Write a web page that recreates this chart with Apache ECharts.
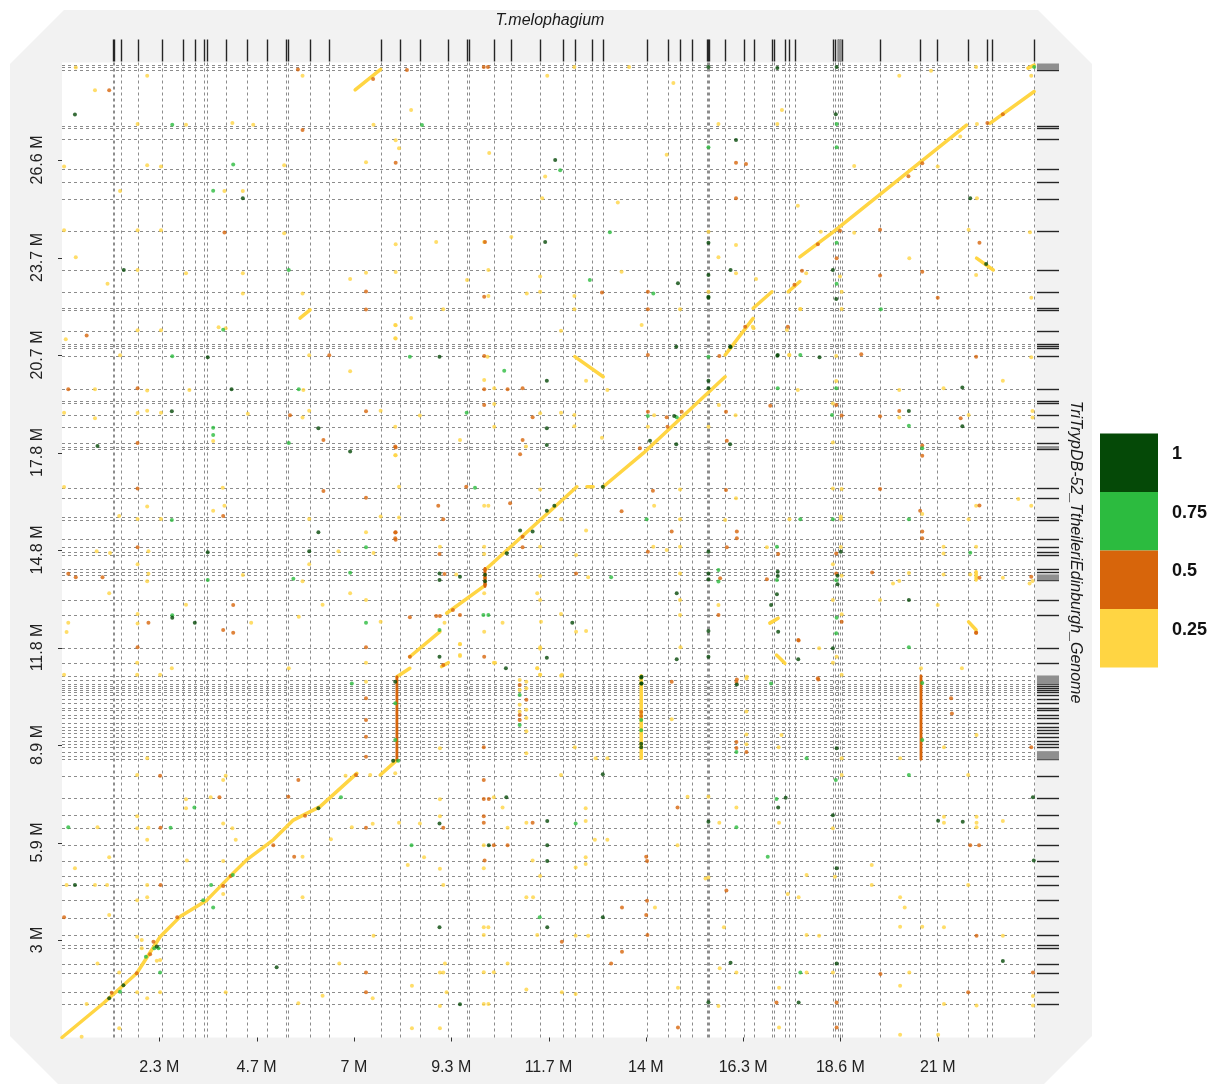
<!DOCTYPE html>
<html><head><meta charset="utf-8">
<script src="https://cdn.jsdelivr.net/npm/echarts@6/dist/echarts.min.js"></script>
<style>html,body{margin:0;padding:0;background:#fff;}#c{width:1223px;height:1086px;}</style>
</head><body><div id="c"></div>
<script>
// ---------------- data (Mb) ----------------
const xTitle = 'T.melophagium';
const yTitle = 'TriTrypDB-52_TtheileriEdinburgh_Genome';
const xMax = 23.3, xStep = 2.33;
const yMax = 29.6, yStep = 2.96;
const xTickLabels = ['', '2.3 M', '4.7 M', '7 M', '9.3 M', '11.7 M', '14 M', '16.3 M', '18.6 M', '21 M', ''];
const yTickLabels = ['', '3 M', '5.9 M', '8.9 M', '11.8 M', '14.8 M', '17.8 M', '20.7 M', '23.7 M', '26.6 M', ''];
const legendLabels = ['1', '0.75', '0.5', '0.25'];
const legendColors = ['#054907', '#2cbb3f', '#d7650b', '#ffd543'];

const xContigEnds = [1.21,1.25,1.42,1.81,2.39,2.90,3.18,3.40,3.47,3.93,4.42,4.92,5.36,5.41,5.93,6.39,7.63,8.10,8.57,9.25,9.69,9.75,10.34,10.75,11.45,11.99,12.28,12.69,12.95,14.02,14.52,14.80,15.08,15.44,15.47,15.50,15.88,16.34,16.58,17.01,17.06,17.32,17.42,17.55,18.46,18.51,18.58,18.63,18.67,19.59,20.55,20.96,21.70,22.16,22.28,23.28];
const yContigEnds = [29.38,29.45,29.52,27.62,27.66,27.27,26.36,25.98,25.46,24.49,23.29,22.62,22.10,22.16,21.46,21.06,20.99,20.92,20.70,19.68,19.33,19.25,18.91,18.54,18.06,17.94,17.88,16.67,16.39,15.81,15.71,15.13,14.90,14.75,14.65,14.21,14.14,14.04,13.89,13.28,12.82,11.82,11.38,10.97,10.85,10.73,10.67,10.61,10.55,10.48,10.40,10.28,10.15,10.00,9.94,9.79,9.69,9.56,9.44,9.34,9.24,9.11,9.01,8.92,8.82,8.68,8.56,8.45,7.95,7.28,6.75,6.37,5.83,5.36,4.91,4.63,4.17,3.64,3.10,2.81,2.73,2.24,1.96,1.37,1.03];
const xTinyContigBlocks = [[18.57,18.68]];
const yTinyContigBlocks = [[29.37,29.57],[17.87,17.95],[13.88,14.05],[10.72,10.98],[8.44,8.69]];

// yellow (identity 0.25) alignment runs
const alignmentRuns = [
  [[0,0],[0.99,1.04],[1.79,1.95],[2.35,3.06],[2.83,3.67],[3.47,4.17],[4.10,4.99],[4.42,5.39],[5.06,6.00],[5.54,6.60],[6.18,7.01],[7.06,8.02]],
  [[7.62,7.97],[8.02,8.42]],
  [[8.02,10.95],[8.33,11.21]],
  [[8.33,11.56],[9.05,12.32]],
  [[9.09,11.26],[9.25,11.38]],
  [[9.21,12.88],[10.09,13.69]],
  [[10.17,14.24],[12.33,16.72]],
  [[12.57,16.72],[12.72,16.72]],
  [[12.96,16.72],[13.92,17.74],[15.88,20.06]],
  [[15.88,20.72],[16.55,21.83]],
  [[16.55,22.14],[17.00,22.64]],
  [[17.39,22.64],[17.67,22.95]],
  [[17.67,23.70],[18.47,24.46],[21.66,27.70]],
  [[22.22,27.75],[23.28,28.72]],
  [[23.13,29.43],[23.28,29.52]],
  [[12.28,20.67],[12.96,20.06]],
  [[21.90,23.66],[22.30,23.30]],
  [[17.11,11.61],[17.31,11.36]],
  [[16.95,12.58],[17.15,12.73]],
  [[7.02,28.77],[7.63,29.39]],
  [[5.70,21.84],[5.94,22.09]],
  [[21.71,12.62],[21.89,12.37]],
  [[13.87,8.48],[13.87,10.98]],
  [[21.89,14.14],[21.89,13.89]]
];
// vertical runs of other identities: [x, yStart, yEnd, legendIndex]
const coloredRuns = [
  [8.02, 8.42, 10.95, 2],
  [20.57, 8.45, 10.98, 2],
  [10.13, 13.69, 14.24, 2]
];

const dots1 = [[0.31,28.02],[4.33,25.48],[1.48,23.30],[3.49,20.65],[4.06,19.68],[2.63,19.01],[6.14,18.50],[6.90,17.79],[0.85,17.96],[6.14,15.34],[3.49,14.73],[5.92,14.76],[2.64,12.74],[3.18,12.59],
[9.04,11.56],[9.04,6.50],[0.31,4.63],[9.04,3.35],[2.27,2.76],[1.47,1.59],[1.13,1.19],[5.14,2.13],[9.53,1.01],[6.14,6.96],
[14.75,22.90],[15.48,22.49],[14.71,20.97],[16.00,20.97],[9.04,20.67],[17.14,20.72],[18.14,20.65],[11.61,19.94],[15.48,19.94],[14.66,18.87],[11.61,18.50],[11.61,17.99],[14.71,18.01],[16.00,18.01],[10.97,15.39],[11.27,15.36],[15.48,14.75],[9.04,14.09],[9.04,13.89],[9.53,13.99],[15.48,14.09],[15.48,13.91],[17.14,14.14],[17.14,14.01],[17.12,13.46],[14.72,13.49],[16.98,13.13],[12.22,12.59],[15.48,12.34],[17.15,12.32],[11.61,11.53],[14.72,11.48],[15.48,11.56],[17.63,11.48],[10.63,11.21],[13.88,10.95],[13.88,10.75],[16.16,10.72],[11.61,15.99],[11.79,16.14],[12.95,16.72],[14.08,18.12],[10.65,14.70],[15.48,19.71],
[15.48,29.46],[17.13,29.43],[18.55,29.46],[18.53,28.03],[16.14,27.25],[21.75,25.48],[15.48,24.13],[15.48,23.15],[16.01,23.30],[18.46,23.30],[15.48,22.46],[18.54,22.42],[17.13,20.70],[22.13,23.48],[16.01,20.96],
[18.46,11.82],[18.55,8.78],[12.95,7.99],[10.64,7.29],[17.33,7.28],[17.15,6.98],[11.62,6.57],[15.48,6.55],[18.46,6.75],[20.98,6.58],[21.57,6.55],[23.25,7.29],[10.22,5.84],[11.62,5.84],[11.62,5.36],[18.55,5.14],[23.27,5.37],[12.95,3.65],[11.62,3.35],[16.01,2.27],[18.55,2.25],[22.53,2.32],[15.48,1.07],[17.64,1.06],
[13.87,10.93],[13.87,10.75],[13.87,8.92],[13.87,8.81],[7.98,10.80],[7.93,8.40],[10.13,14.05],[10.13,13.85],
[21.56,19.73],[20.28,19.02],[21.56,18.56],[18.65,14.75],[18.57,14.02],[18.57,13.76],[20.28,13.28],[11.81,26.64],[11.57,24.15]];

const dots075 = [[2.64,27.71],[4.10,26.50],[3.62,25.71],[5.43,23.30],[3.86,21.49],[2.64,20.68],[5.67,19.68],[3.62,18.51],[3.62,18.29],[5.43,18.05],[2.63,15.71],[7.28,14.88],[3.49,13.89],[5.54,13.93],[6.90,14.11],[2.64,12.82],[7.28,12.59],
[6.94,10.75],[3.17,6.98],[6.68,7.29],[8.37,5.84],[2.60,6.37],[0.15,6.38],[3.62,3.95],[2.21,2.71],[2.31,2.71],[2.01,2.45],[2.35,1.97],[1.39,1.39],[3.38,4.17],[4.09,4.93],[3.57,4.63],[7.98,10.15],[7.98,9.03],[8.05,8.40],
[14.16,22.59],[8.33,20.67],[15.48,20.67],[17.68,20.72],[10.59,20.24],[17.14,19.71],[9.69,18.97],[14.03,18.87],[9.89,16.69],[14.00,15.73],[17.68,15.73],[17.12,14.90],[13.15,13.97],[15.72,14.19],[15.72,13.84],[17.12,13.89],[10.09,12.83],[10.21,12.83],[9.04,12.37],[16.98,10.75],[14.72,18.83],
[23.28,29.46],[18.55,27.73],[15.48,27.03],[18.55,27.03],[18.55,24.13],[18.55,22.88],[19.61,22.11],
[20.28,11.85],[17.83,8.48],[18.53,7.82],[20.28,7.97],[17.11,7.24],[16.15,6.38],[12.30,6.50],[16.90,5.49],[11.44,3.65],[17.68,1.97],[13.87,9.64],[13.87,9.33],[20.60,10.76],[20.60,9.03],[10.96,10.40],[10.96,9.49],[16.15,8.67],
[18.54,19.71],[18.44,18.90],[20.28,18.57],[20.60,17.89],[18.46,15.73],[20.28,15.73],[21.75,14.72],[18.54,13.88],[18.55,12.74],[18.54,12.27],
[8.62,27.70],[13.12,24.45],[11.93,26.33],[12.64,23.00]];

const dots05 = [[1.13,28.76],[5.65,29.39],[5.76,27.55],[7.99,26.56],[3.89,24.44],[7.28,22.65],[7.28,22.10],[0.59,21.31],[6.40,20.71],[0.15,19.68],[1.81,19.71],[5.46,18.89],[7.28,19.01],[6.26,18.14],[1.81,18.05],[7.99,17.91],[1.81,16.67],[6.26,16.59],[7.28,16.39],[3.86,15.83],[7.99,15.34],[7.99,15.11],[1.81,14.88],[0.15,14.08],[0.33,13.97],[0.97,13.97],[4.10,13.13],[2.07,12.59],[3.86,12.37],[4.10,12.29],[7.28,11.85],[1.81,11.85],[7.45,29.10],
[7.28,10.30],[7.28,9.64],[7.28,9.13],[7.28,8.52],[2.35,7.95],[5.66,7.82],[3.77,7.29],[5.42,7.31],[9.13,6.37],[7.28,6.37],[2.36,6.37],[5.56,5.49],[2.36,4.63],[0.05,3.65],[2.19,2.91],[2.11,2.53],[7.28,1.97],[7.28,1.37],[1.19,1.36],[2.76,3.65],[1.79,1.95],[3.86,4.60],[4.04,4.90],[5.06,5.84],[5.82,6.73],[7.04,7.97],
[10.11,22.49],[12.93,22.62],[14.03,22.64],[14.03,22.11],[17.38,21.58],[10.11,20.69],[14.03,20.72],[10.11,19.68],[10.67,19.68],[11.03,19.71],[10.11,19.20],[16.96,19.18],[11.27,18.83],[14.03,19.00],[14.48,18.83],[15.90,19.00],[11.03,18.14],[7.98,17.94],[10.97,17.71],[15.92,18.12],[9.68,16.72],[14.15,16.60],[15.90,16.62],[9.01,16.14],[10.73,16.22],[13.40,15.98],[9.13,15.73],[7.98,15.33],[7.98,15.16],[14.60,15.36],[16.16,15.36],[16.16,15.16],[11.03,14.88],[15.92,14.88],[9.04,14.68],[14.03,14.75],[17.15,14.68],[9.16,14.07],[12.31,14.09],[15.76,13.94],[16.88,13.91],[8.33,12.76],[8.96,12.80],[9.05,12.80],[9.53,12.83],[15.72,12.83],[17.63,12.07],[10.11,11.56],[14.60,10.80],[16.16,10.87],[18.10,10.91],[13.84,17.89],[14.50,18.54],[14.84,19.00],[15.74,20.69],[16.36,21.58],[17.54,22.85],[11.03,15.20],[10.13,14.20],[10.13,13.95],[10.13,13.75],[9.36,12.98],[8.33,11.56],[9.13,11.31],
[16.14,26.56],[16.38,26.52],[16.14,25.48],[19.59,24.52],[18.55,23.66],[21.97,24.13],[17.72,23.28],[19.59,23.13],[20.60,23.25],[20.97,22.46],[19.14,20.74],[21.89,20.67],[22.16,27.76],[22.53,28.03],[20.60,26.54],[20.27,26.15],[18.10,24.08],[18.63,24.49],
[18.11,10.87],[17.64,12.05],[21.29,10.30],[21.31,9.84],[23.21,8.81],[10.10,8.81],[10.10,7.82],[10.10,7.24],[10.22,7.24],[10.10,6.72],[10.10,6.52],[11.27,6.52],[14.74,6.98],[21.75,5.84],[21.96,5.84],[10.34,5.84],[10.67,5.84],[10.12,5.37],[13.99,5.49],[14.01,5.36],[15.91,4.46],[14.01,4.15],[13.41,3.95],[13.99,3.72],[21.90,3.09],[14.02,3.11],[11.97,2.91],[13.41,2.60],[13.15,2.25],[23.25,1.97],[19.60,1.93],[21.70,1.37],[17.11,1.06],[18.55,1.06],[14.75,0.30],[18.55,0.30],[10.96,10.70],[10.96,9.79],[11.12,10.25],[10.96,9.64],[16.15,10.79],[16.15,8.97],[16.15,8.79],[16.39,8.67],[13.87,9.88],[13.87,9.76],
[18.54,19.20],[18.67,18.88],[19.59,18.86],[20.05,19.02],[21.52,18.80],[20.60,17.97],[20.60,17.66],[19.59,16.65],[21.97,16.15],[20.55,15.99],[20.60,15.36],[20.60,15.16],[18.54,14.69],[18.54,14.09],[19.40,14.12],[21.97,13.96],[23.21,13.99],[18.67,12.62],[21.89,12.29],
[8.26,29.37],[10.10,29.46],[10.20,29.46],[10.13,24.15],[21.89,12.29]];

const dots025 = [[0.33,29.45],[0.79,28.76],[2.04,29.20],[5.76,29.20],[1.81,27.73],[2.97,27.71],[4.08,27.76],[4.58,27.71],[7.46,27.71],[7.99,27.24],[7.28,26.57],[2.04,26.48],[2.37,26.44],[5.32,26.48],[0.05,26.44],[1.39,25.70],[3.89,25.70],[4.33,25.70],[5.32,24.42],[0.05,24.51],[1.81,24.51],[2.37,24.51],[7.99,24.08],[0.33,23.69],[1.81,23.30],[2.97,23.20],[4.33,23.20],[6.90,23.03],[7.28,23.22],[7.99,23.24],[1.09,22.88],[4.33,22.59],[5.76,22.59],[3.75,21.56],[3.92,21.53],[0.09,21.20],[1.81,21.47],[2.37,21.47],[7.99,21.62],[7.99,21.22],[1.39,20.71],[5.92,20.71],[6.90,20.23],[0.79,19.68],[2.04,19.64],[3.05,19.66],[5.78,19.66],[0.05,18.97],[0.79,18.80],[1.81,18.96],[2.04,19.03],[2.37,18.97],[4.45,18.94],[5.76,18.82],[5.92,19.03],[7.63,19.03],[3.62,18.11],[7.99,17.68],[0.05,16.71],[3.85,16.69],[2.04,16.12],[3.62,15.99],[3.89,16.14],[1.37,15.83],[1.81,15.74],[2.37,15.74],[5.92,15.74],[7.63,15.82],[7.28,15.34],[0.83,14.76],[1.15,14.71],[2.07,14.76],[6.62,14.76],[5.92,14.37],[7.46,14.71],[1.81,14.37],[2.07,14.08],[2.04,13.85],[4.33,14.04],[5.76,13.85],[1.13,13.49],[2.97,13.14],[6.24,13.14],[6.90,13.49],[7.28,13.28],[1.81,12.86],[1.81,12.57],[0.15,12.59],[0.11,12.31],[4.53,12.59],[5.67,12.77],[7.63,12.62],
[1.80,11.38],[1.80,11.01],[2.63,11.21],[2.35,11.01],[0.05,11.01],[5.43,11.21],[7.28,11.38],[7.28,10.80],[9.53,11.95],[9.53,11.61],[9.05,8.78],[2.04,8.48],[1.80,7.97],[3.92,7.95],[3.86,7.82],[6.79,7.95],[7.38,7.97],[7.98,8.02],[2.97,7.23],[2.97,6.96],[3.56,7.29],[9.05,7.23],[9.05,6.72],[8.57,6.50],[8.07,6.52],[7.44,6.49],[6.94,6.38],[1.80,6.72],[1.80,6.35],[2.07,6.37],[0.85,6.38],[2.04,6.00],[3.86,6.50],[4.08,6.35],[4.16,6.00],[6.44,6.02],[1.13,5.47],[0.31,5.14],[2.99,5.37],[3.86,5.36],[5.76,5.49],[8.28,5.24],[8.67,5.47],[9.05,5.12],[0.11,4.63],[0.79,4.63],[1.08,4.63],[2.04,4.63],[2.04,4.26],[1.80,4.17],[3.86,4.36],[5.76,4.26],[9.13,4.63],[1.13,3.72],[7.46,3.09],[1.80,3.06],[1.91,2.96],[1.91,2.71],[2.35,2.35],[2.27,2.33],[0.85,2.25],[1.37,1.97],[6.64,2.25],[9.17,2.25],[9.05,1.97],[9.13,1.97],[8.38,1.57],[9.21,1.37],[3.92,1.37],[2.35,1.37],[1.80,1.37],[2.04,1.19],[0.59,1.02],[6.24,1.27],[5.66,1.04],[7.44,1.19],[9.05,0.96],[1.37,0.28],[8.38,0.28],[9.05,0.28],[0.47,0.02],
[10.21,22.51],[11.13,22.59],[11.45,22.64],[12.27,22.51],[9.13,22.11],[12.27,22.11],[14.80,22.11],[17.68,22.11],[8.36,21.84],[7.98,21.63],[7.98,21.23],[11.95,21.46],[13.88,21.63],[16.56,21.53],[10.19,20.67],[17.41,20.72],[12.55,19.94],[13.06,19.66],[10.11,19.96],[10.35,19.71],[17.62,19.66],[10.35,19.23],[15.73,19.20],[8.57,18.88],[11.45,18.95],[11.95,18.97],[12.27,18.90],[14.18,18.89],[16.13,18.89],[7.98,18.54],[10.35,18.54],[12.27,18.56],[14.03,18.54],[15.48,18.54],[12.93,18.21],[9.53,18.14],[11.11,17.94],[7.98,17.68],[8.07,16.72],[11.45,16.64],[14.80,16.64],[16.14,16.37],[10.11,16.14],[10.21,16.14],[14.18,16.14],[8.07,15.79],[11.95,15.73],[14.80,15.73],[15.88,15.71],[17.42,15.73],[12.55,15.39],[9.05,14.90],[10.11,14.90],[11.45,14.90],[14.16,14.90],[14.80,14.90],[16.88,14.88],[10.11,14.68],[12.31,14.65],[14.48,14.80],[9.44,14.06],[11.45,14.01],[12.60,13.97],[14.80,14.09],[11.38,13.49],[10.11,13.49],[11.45,13.28],[14.80,13.28],[15.72,13.13],[11.95,12.86],[14.80,12.83],[10.55,12.59],[11.47,12.62],[9.16,12.59],[10.11,12.32],[12.31,12.32],[12.55,12.34],[9.53,11.94],[9.53,11.58],[10.37,11.38],[11.45,11.80],[11.38,11.21],[11.45,11.01],[11.95,10.98],[16.40,10.95],
[20.05,29.20],[20.81,29.35],[21.89,29.46],[23.21,29.20],[17.24,28.16],[15.72,27.73],[17.13,27.73],[21.91,27.73],[21.51,27.35],[18.97,26.46],[20.97,26.44],[17.62,25.25],[21.91,25.48],[15.48,24.46],[18.17,24.46],[18.97,24.43],[21.71,24.52],[23.18,24.45],[16.14,24.06],[15.72,23.69],[20.29,23.66],[16.14,23.20],[16.62,23.03],[17.82,23.20],[18.63,23.10],[21.89,23.15],[15.48,22.64],[18.67,22.64],[23.21,22.46],[17.68,22.12],[18.67,22.12],[17.36,21.48],[16.54,21.58],[17.42,20.72],[18.54,20.69],[23.21,20.65],
[10.34,11.38],[11.38,11.21],[11.45,11.85],[11.45,11.01],[11.97,11.01],[14.81,11.85],[14.60,9.66],[18.13,11.82],[18.46,11.38],[18.55,11.56],[18.67,11.01],[20.57,11.21],[21.55,11.21],[21.90,9.18],[21.12,8.81],[12.28,8.81],[11.12,8.63],[12.78,8.48],[13.06,8.48],[18.67,8.48],[17.16,8.81],[17.23,9.18],[20.07,8.48],[11.95,7.97],[18.67,7.97],[21.70,7.97],[10.34,7.29],[10.55,6.98],[10.67,6.37],[11.12,6.52],[12.54,6.96],[12.54,6.57],[12.76,6.00],[13.06,6.00],[14.98,7.31],[15.48,7.31],[15.74,6.52],[16.15,6.98],[17.17,6.52],[18.46,6.35],[21.12,6.70],[21.12,6.52],[21.90,6.70],[21.90,6.52],[21.90,6.38],[22.53,6.57],[10.10,5.84],[14.74,5.84],[10.10,5.14],[11.27,5.37],[12.54,5.47],[12.54,5.27],[12.30,5.16],[18.51,4.88],[19.39,5.24],[15.41,4.83],[15.48,4.86],[11.45,4.90],[17.83,4.93],[19.39,4.63],[21.70,4.63],[17.38,4.36],[17.64,4.26],[11.12,4.26],[11.28,4.26],[14.20,3.95],[10.10,3.35],[10.21,3.35],[15.85,3.35],[20.07,4.26],[20.18,3.95],[20.07,3.36],[20.60,3.36],[21.12,3.35],[22.53,3.09],[10.10,3.11],[11.38,3.11],[12.30,3.09],[12.60,3.09],[17.83,3.11],[18.13,3.09],[10.67,2.25],[10.10,1.98],[10.34,1.98],[15.75,2.10],[16.15,1.97],[17.83,1.97],[18.46,1.97],[20.29,1.97],[20.07,1.57],[23.25,1.26],[11.12,1.46],[11.97,1.37],[12.30,1.32],[14.75,1.51],[17.17,1.51],[10.10,1.02],[10.21,1.02],[15.72,0.96],[21.12,1.02],[21.90,0.97],[23.25,0.97],[17.17,0.30],[20.07,0.08],[20.98,0.08],
[10.96,10.85],[10.96,10.55],[10.96,10.10],[10.96,9.90],[11.12,10.80],[11.12,10.60],[11.12,9.95],[11.12,9.70],[11.12,9.30],[16.39,10.90],[16.39,9.90],[16.39,9.20],[16.39,8.90],
[18.54,19.93],[20.05,19.66],[21.11,19.71],[22.53,19.94],[18.46,19.25],[20.05,18.82],[21.71,18.90],[23.24,19.02],[23.24,18.82],[18.46,18.06],[18.46,16.67],[18.67,16.65],[22.90,16.35],[21.89,16.14],[23.21,16.14],[20.60,15.89],[18.65,15.82],[18.65,15.74],[21.71,15.73],[18.65,14.89],[21.11,14.90],[21.89,14.90],[21.11,14.69],[18.46,14.37],[18.67,14.02],[20.28,14.10],[20.05,13.86],[21.11,14.06],[21.75,14.06],[22.53,13.96],[23.24,13.86],[19.90,13.78],[23.17,13.78],[18.46,13.28],[19.59,13.28],[20.97,13.13],[18.67,12.85],
[11.62,29.20],[8.36,28.16],[8.07,27.00],[10.23,26.85],[11.57,26.14],[13.31,25.35],[11.50,25.48],[8.96,24.15],[10.11,24.15],[10.76,24.30],[9.70,23.00],[10.21,23.30],[11.45,23.10],[13.40,23.25],[14.48,26.80],[12.27,29.46],[13.58,29.46],[14.64,28.98]];

// ---------------- chart ----------------
const chart = echarts.init(document.getElementById('c'), null, {renderer: 'canvas'});
const FONT = 'Liberation Sans, Arial, sans-serif';
const dashColor = '#8c8c8c';
const tickColor = '#262626';

function crisp(v) { return Math.round(v) + 0.5; }

function renderXBound(params, api) {
  const cs = params.coordSys;
  const px = crisp(api.coord([api.value(0), 0])[0]);
  return {type: 'group', children: [
    {type: 'line', shape: {x1: px, y1: cs.y, x2: px, y2: cs.y + cs.height}, style: {stroke: dashColor, lineWidth: 1, lineDash: [3, 3]}},
    {type: 'line', shape: {x1: px, y1: cs.y - 23, x2: px, y2: cs.y - 1}, style: {stroke: tickColor, lineWidth: 1.4}}
  ]};
}
function renderYBound(params, api) {
  const cs = params.coordSys;
  const py = crisp(api.coord([0, api.value(1)])[1]);
  const r = cs.x + cs.width;
  return {type: 'group', children: [
    {type: 'line', shape: {x1: cs.x, y1: py, x2: r, y2: py}, style: {stroke: dashColor, lineWidth: 1, lineDash: [3, 3]}},
    {type: 'line', shape: {x1: r + 2, y1: py, x2: r + 24, y2: py}, style: {stroke: tickColor, lineWidth: 1.4}}
  ]};
}
function renderYBlock(params, api) {
  const cs = params.coordSys;
  const a = api.coord([0, api.value(1)])[1];
  const b = api.coord([0, api.value(2)])[1];
  const r = cs.x + cs.width;
  return {type: 'rect', shape: {x: r + 2, y: Math.min(a, b), width: 22, height: Math.max(2, Math.abs(a - b))}, style: {fill: '#8f8f8f'}};
}
function renderXBlock(params, api) {
  const cs = params.coordSys;
  const a = api.coord([api.value(0), 0])[0];
  const b = api.coord([api.value(1), 0])[0];
  return {type: 'rect', shape: {x: Math.min(a, b), y: cs.y - 23, width: Math.max(2, Math.abs(a - b)), height: 22}, style: {fill: '#8f8f8f'}};
}
// outward axis ticks only at labelled positions
function renderXTick(params, api) {
  const cs = params.coordSys;
  const px = crisp(api.coord([api.value(0), 0])[0]);
  const b = cs.y + cs.height;
  return {type: 'line', shape: {x1: px, y1: b, x2: px, y2: b + 4}, style: {stroke: '#333', lineWidth: 1}};
}
function renderYTick(params, api) {
  const cs = params.coordSys;
  const py = crisp(api.coord([0, api.value(1)])[1]);
  return {type: 'line', shape: {x1: cs.x - 4, y1: py, x2: cs.x, y2: py}, style: {stroke: '#333', lineWidth: 1}};
}
const xTickData = [], yTickData = [];
xTickLabels.forEach((l, i) => { if (l) xTickData.push([i * xStep, 0]); });
yTickLabels.forEach((l, i) => { if (l) yTickData.push([0, i * yStep]); });

const series = [
  {type: 'custom', name: 'xb', renderItem: renderXBound, clip: false, silent: true, z: 1,
   data: xContigEnds.map(v => [v, 0]), encode: {x: 0, y: 1}},
  {type: 'custom', name: 'yb', renderItem: renderYBound, clip: false, silent: true, z: 1,
   data: yContigEnds.map(v => [0, v]), encode: {x: 0, y: 1}},
  {type: 'custom', name: 'ybl', renderItem: renderYBlock, clip: false, silent: true, z: 2,
   data: yTinyContigBlocks.map(b => [0, b[0], b[1]]), encode: {x: 0, y: [1, 2]}},
  {type: 'custom', name: 'xbl', renderItem: renderXBlock, clip: false, silent: true, z: 2,
   data: xTinyContigBlocks.map(b => [b[0], b[1], 0]), encode: {x: [0, 1], y: 2}},
  {type: 'custom', name: 'xt', renderItem: renderXTick, clip: false, silent: true, z: 2,
   data: xTickData, encode: {x: 0, y: 1}},
  {type: 'custom', name: 'yt', renderItem: renderYTick, clip: false, silent: true, z: 2,
   data: yTickData, encode: {x: 0, y: 1}},
  {type: 'scatter', name: '0.25', data: dots025, symbolSize: 4, itemStyle: {color: legendColors[3]}, z: 3, silent: true},
  {type: 'lines', coordinateSystem: 'cartesian2d', polyline: true, silent: true, z: 4,
   data: alignmentRuns.map(r => ({coords: r})),
   lineStyle: {color: legendColors[3], width: 3.5, opacity: 1, cap: 'round', join: 'round'}},
  {type: 'lines', coordinateSystem: 'cartesian2d', polyline: true, silent: true, z: 5,
   data: coloredRuns.map(r => ({coords: [[r[0], r[1]], [r[0], r[2]]], lineStyle: {color: legendColors[r[3]]}})),
   lineStyle: {width: 2.8, opacity: 1, cap: 'round'}},
  {type: 'scatter', name: '0.5', data: dots05, symbolSize: 4, itemStyle: {color: legendColors[2]}, z: 6, silent: true},
  {type: 'scatter', name: '0.75', data: dots075, symbolSize: 4, itemStyle: {color: legendColors[1]}, z: 7, silent: true},
  {type: 'scatter', name: '1', data: dots1, symbolSize: 4, itemStyle: {color: legendColors[0]}, z: 8, silent: true}
];

const graphics = [
  {type: 'polygon', z: -100, silent: true,
   shape: {points: [[10,64],[64,10],[1038,10],[1092,64],[1092,1036],[1044,1084],[58,1084],[10,1036]]},
   style: {fill: '#f2f2f2'}},
  {type: 'text', z: 10, silent: true, x: 550, y: 21,
   style: {text: xTitle, fontSize: 16, fontStyle: 'italic', fontFamily: FONT, fill: '#1a1a1a', align: 'center', verticalAlign: 'middle'}},
  {type: 'text', z: 10, silent: true, x: 1075, y: 552, rotation: -Math.PI / 2,
   style: {text: yTitle, fontSize: 16, fontStyle: 'italic', fontFamily: FONT, fill: '#1a1a1a', align: 'center', verticalAlign: 'middle'}}
];
const boxTop = 433.5, boxH = 58.5;
legendLabels.forEach((lab, i) => {
  graphics.push({type: 'rect', z: 10, silent: true, shape: {x: 1100, y: boxTop + i * boxH, width: 58, height: boxH}, style: {fill: legendColors[i]}});
  graphics.push({type: 'text', z: 10, silent: true, x: 1172, y: boxTop + i * boxH + 21,
    style: {text: lab, fontSize: 18, fontWeight: 'bold', fontFamily: FONT, fill: '#111', align: 'left', verticalAlign: 'middle'}});
});

chart.setOption({
  animation: false,
  backgroundColor: '#ffffff',
  graphic: graphics,
  grid: {left: 62, right: 188, top: 62.5, bottom: 48.5, show: true, backgroundColor: '#ffffff', borderWidth: 0},
  xAxis: {type: 'value', min: 0, max: xMax, interval: xStep,
    axisLine: {show: false}, splitLine: {show: false}, axisTick: {show: false},
    axisLabel: {fontSize: 16, color: '#222', fontFamily: FONT, margin: 22,
      formatter: (v) => xTickLabels[Math.round(v / xStep)] || ''}},
  yAxis: {type: 'value', min: 0, max: yMax, interval: yStep,
    axisLine: {show: false}, splitLine: {show: false}, axisTick: {show: false},
    axisLabel: {fontSize: 16, color: '#222', fontFamily: FONT, margin: 16, rotate: 90,
      formatter: (v) => yTickLabels[Math.round(v / yStep)] || ''}},
  series: series
});
</script></body></html>
